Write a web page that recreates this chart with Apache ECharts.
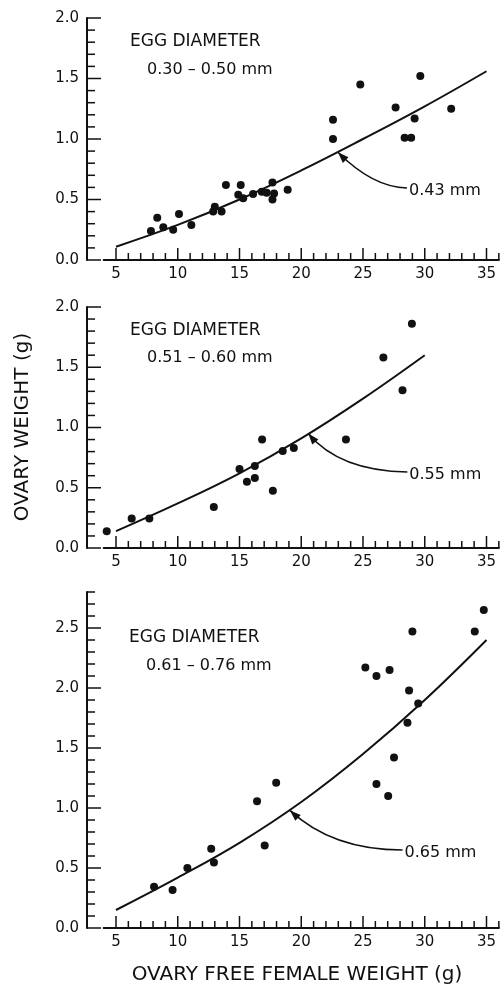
<!DOCTYPE html>
<html>
<head>
<meta charset="utf-8">
<script src="https://cdn.jsdelivr.net/npm/echarts@6/dist/echarts.min.js"></script>
<style>
  html, body { margin: 0; padding: 0; background: #fff; }
  #chart { width: 500px; height: 985px; }
</style>
</head>
<body>
<div id="chart"></div>
<script>
// ---- data ----
// x: ovary free female weight (g), y: ovary weight (g)

// egg diameter 0.30 - 0.50 mm
const p1Points = [
  [7.83, 0.24], [8.34, 0.35], [8.83, 0.27], [9.63, 0.25], [10.1, 0.38], [11.1, 0.29],
  [13.0, 0.44], [12.87, 0.40], [13.55, 0.40], [13.9, 0.62], [15.1, 0.62], [14.9, 0.54],
  [15.3, 0.51], [16.1, 0.545], [16.8, 0.565], [17.2, 0.556], [17.67, 0.64], [17.8, 0.55],
  [17.67, 0.50], [18.9, 0.58], [22.57, 1.16], [22.57, 1.0], [24.78, 1.45], [27.64, 1.26],
  [28.37, 1.01], [28.9, 1.01], [29.18, 1.17], [29.64, 1.52], [32.14, 1.25]
];
const p1Fit = [[5, 0.11], [10, 0.29], [15, 0.50], [20, 0.74], [25, 1.0], [30, 1.27], [35, 1.56]];

// egg diameter 0.51 - 0.60 mm
const p2Points = [
  [4.25, 0.14], [6.27, 0.245], [7.7, 0.245], [12.92, 0.34], [15.0, 0.655], [15.6, 0.55],
  [16.24, 0.68], [16.24, 0.58], [16.83, 0.90], [17.7, 0.475], [18.5, 0.805], [19.4, 0.83],
  [23.62, 0.90], [26.65, 1.58], [28.2, 1.31], [28.96, 1.86]
];
const p2Fit = [[5, 0.14], [10, 0.37], [15, 0.62], [20, 0.91], [25, 1.24], [30, 1.60]];

// egg diameter 0.61 - 0.76 mm
const p3Points = [
  [8.08, 0.344], [9.58, 0.316], [10.78, 0.50], [12.71, 0.66], [12.93, 0.545], [16.42, 1.056],
  [17.04, 0.687], [17.97, 1.21], [25.19, 2.17], [26.09, 2.10], [27.15, 2.15], [26.09, 1.20],
  [27.04, 1.10], [27.51, 1.42], [28.6, 1.71], [28.73, 1.98], [29.0, 2.47], [29.47, 1.87],
  [34.05, 2.47], [34.78, 2.65]
];
const p3Fit = [[5, 0.15], [10, 0.42], [15, 0.71], [20, 1.05], [25, 1.45], [30, 1.90], [35, 2.40]];

const rangeLabels = ['0.30 – 0.50 mm', '0.51 – 0.60 mm', '0.61 – 0.76 mm'];
const fitLabels = ['0.43 mm', '0.55 mm', '0.65 mm'];

// arrow: [start, control, tip] in data units
const fitArrows = [
  [[28.56, 0.595], [25.8, 0.60], [22.97, 0.89]],
  [[28.59, 0.63], [23.08, 0.64], [20.57, 0.95]],
  [[28.2, 0.65], [22.51, 0.65], [19.09, 0.98]]
];

// axis ranges / tick steps
const xRange = [4, 36];        // axis line
const xMajorRange = [5, 35];   // labelled ticks
const xMinorRange = [5, 36];   // small ticks
const xMajorStep = 5, xMinorStep = 1;
const yMax = [2.0, 2.0, 2.8];
const yMajorStep = 0.5, yMinorStep = 0.1;

// ---- layout ----
const INK = '#111';
const FONT = 'DejaVu Sans';
const X5 = 116, PX = 12.35;   // pixel of x = 5, pixels per gram
const Y_AXIS_X = 87;
const TICK = { xMajor: 12, xMinor: 7, yMajor: 14, yMinor: 8, w: 1.5 };
const gridBoxes = [
  { top: 18, height: 242 },
  { top: 307, height: 241 },
  { top: 592, height: 336 }
];
const titleSpots = [
  { x: 130, y: 42, y2: 70 },
  { x: 130, y: 331, y2: 358 },
  { x: 129, y: 638, y2: 666 }
];
const leftOf = v => X5 + (v - 5) * PX;
const rightOf = v => 500 - leftOf(v);

const points = [p1Points, p2Points, p3Points];
const fits = [p1Fit, p2Fit, p3Fit];

const grid = [], xAxis = [], yAxis = [], series = [];
const axisLine = () => ({ show: true, onZero: false, lineStyle: { color: INK, width: 2 } });
const hiddenX = gi => ({ type: 'value', gridIndex: gi, show: false, min: 0, max: 1 });
const hiddenY = (gi, max) => ({ type: 'value', gridIndex: gi, show: false, min: 0, max: max });
const dataAxes = [];

gridBoxes.forEach((g, i) => {
  const gA = grid.length;
  const box = { top: g.top, height: g.height };
  grid.push({ ...box, left: leftOf(xRange[0]), right: rightOf(xRange[1]) });           // data + x line
  grid.push({ ...box, left: leftOf(xMajorRange[0]), right: rightOf(xMajorRange[1]) }); // x labels
  grid.push({ ...box, left: Y_AXIS_X, right: rightOf(xRange[1]) });                    // y axis

  const xA = xAxis.length, yA = yAxis.length;
  dataAxes.push({ xAxisIndex: xA, yAxisIndex: yA });

  xAxis.push({
    type: 'value', gridIndex: gA, min: xRange[0], max: xRange[1], position: 'bottom',
    axisLine: axisLine(), axisTick: { show: false }, axisLabel: { show: false }, splitLine: { show: false }
  });
  yAxis.push(hiddenY(gA, yMax[i]));

  xAxis.push({
    type: 'value', gridIndex: gA + 1, min: xMajorRange[0], max: xMajorRange[1], interval: xMajorStep,
    position: 'bottom', axisLine: { show: false }, axisTick: { show: false },
    axisLabel: { color: INK, fontSize: 15, fontFamily: FONT, margin: 7 },
    splitLine: { show: false }
  });
  yAxis.push(hiddenY(gA + 1, 1));

  xAxis.push(hiddenX(gA + 2));
  yAxis.push({
    type: 'value', gridIndex: gA + 2, min: 0, max: yMax[i], interval: yMajorStep, position: 'left',
    axisLine: axisLine(), axisTick: { show: false },
    axisLabel: {
      color: INK, fontSize: 15, fontFamily: FONT, margin: 8,
      showMaxLabel: Math.abs(yMax[i] / yMajorStep - Math.round(yMax[i] / yMajorStep)) < 1e-9,
      formatter: v => v.toFixed(1)
    },
    splitLine: { show: false }
  });

  series.push({
    type: 'line', xAxisIndex: xA, yAxisIndex: yA,
    data: fits[i], smooth: 0.4, showSymbol: false, silent: true, clip: false,
    lineStyle: { color: INK, width: 2 }
  });
  series.push({
    type: 'scatter', xAxisIndex: xA, yAxisIndex: yA, clip: false,
    data: points[i], symbolSize: 8, itemStyle: { color: INK, opacity: 1 }
  });
});

const chart = echarts.init(document.getElementById('chart'));
chart.setOption({
  animation: false,
  backgroundColor: '#fff',
  grid, xAxis, yAxis, series
});

const graphic = [];

// ---- tick marks, placed through each panel's scales (thin filled bars) ----
const steps = (a, b, st) => {
  const out = [];
  for (let k = 0; a + k * st <= b + 1e-9; k++) out.push(+(a + k * st).toFixed(3));
  return out;
};
const isMultiple = (v, st) => Math.abs(v / st - Math.round(v / st)) < 1e-6;
const tickBar = (x, y, w, h) => {
  graphic.push({ type: 'rect', z: 100, silent: true, shape: { x, y, width: w, height: h }, style: { fill: INK } });
};
gridBoxes.forEach((g, i) => {
  const base = chart.convertToPixel(dataAxes[i], [5, 0])[1];
  steps(xMinorRange[0], xMinorRange[1], xMinorStep).forEach(v => {
    const x = chart.convertToPixel(dataAxes[i], [v, 0])[0];
    const len = isMultiple(v, xMajorStep) && v <= xMajorRange[1] ? TICK.xMajor : TICK.xMinor;
    tickBar(x - TICK.w / 2, base - len, TICK.w, len);
  });
  steps(0, yMax[i], yMinorStep).forEach(v => {
    const y = chart.convertToPixel(dataAxes[i], [5, v])[1];
    const len = isMultiple(v, yMajorStep) ? TICK.yMajor : TICK.yMinor;
    tickBar(Y_AXIS_X, y - TICK.w / 2, len, TICK.w);
  });
});

// ---- texts and arrows ----
titleSpots.forEach((t, i) => {
  graphic.push({
    type: 'text', x: t.x, y: t.y,
    style: { text: 'EGG DIAMETER', font: '17px "' + FONT + '"', fill: INK, align: 'left', verticalAlign: 'middle' }
  });
  graphic.push({
    type: 'text', x: t.x + 17, y: t.y2,
    style: { text: rangeLabels[i], font: '16px "' + FONT + '"', fill: INK, align: 'left', verticalAlign: 'middle' }
  });

  const [s, c, e] = fitArrows[i].map(p => chart.convertToPixel(dataAxes[i], p));
  graphic.push({
    type: 'bezierCurve',
    shape: { x1: s[0], y1: s[1], cpx1: c[0], cpy1: c[1], x2: e[0], y2: e[1] },
    style: { stroke: INK, lineWidth: 1.5, fill: null }
  });
  let dx = e[0] - c[0], dy = e[1] - c[1];
  const len = Math.hypot(dx, dy);
  dx /= len; dy /= len;
  const bx = e[0] - dx * 11, by = e[1] - dy * 11;
  graphic.push({
    type: 'polygon',
    shape: { points: [[e[0], e[1]], [bx - dy * 4, by + dx * 4], [bx + dy * 4, by - dx * 4]] },
    style: { fill: INK }
  });
  graphic.push({
    type: 'text', x: s[0] + 2, y: s[1] + 3,
    style: { text: fitLabels[i], font: '16px "' + FONT + '"', fill: INK, align: 'left', verticalAlign: 'middle' }
  });
});

graphic.push({
  type: 'text', x: 23, y: 427, rotation: Math.PI / 2,
  style: { text: 'OVARY WEIGHT (g)', font: '20px "' + FONT + '"', fill: INK, align: 'center', verticalAlign: 'middle' }
});
graphic.push({
  type: 'text', x: 297, y: 975,
  style: { text: 'OVARY FREE FEMALE WEIGHT (g)', font: '20px "' + FONT + '"', fill: INK, align: 'center', verticalAlign: 'middle' }
});

chart.setOption({ graphic });
</script>
</body>
</html>
